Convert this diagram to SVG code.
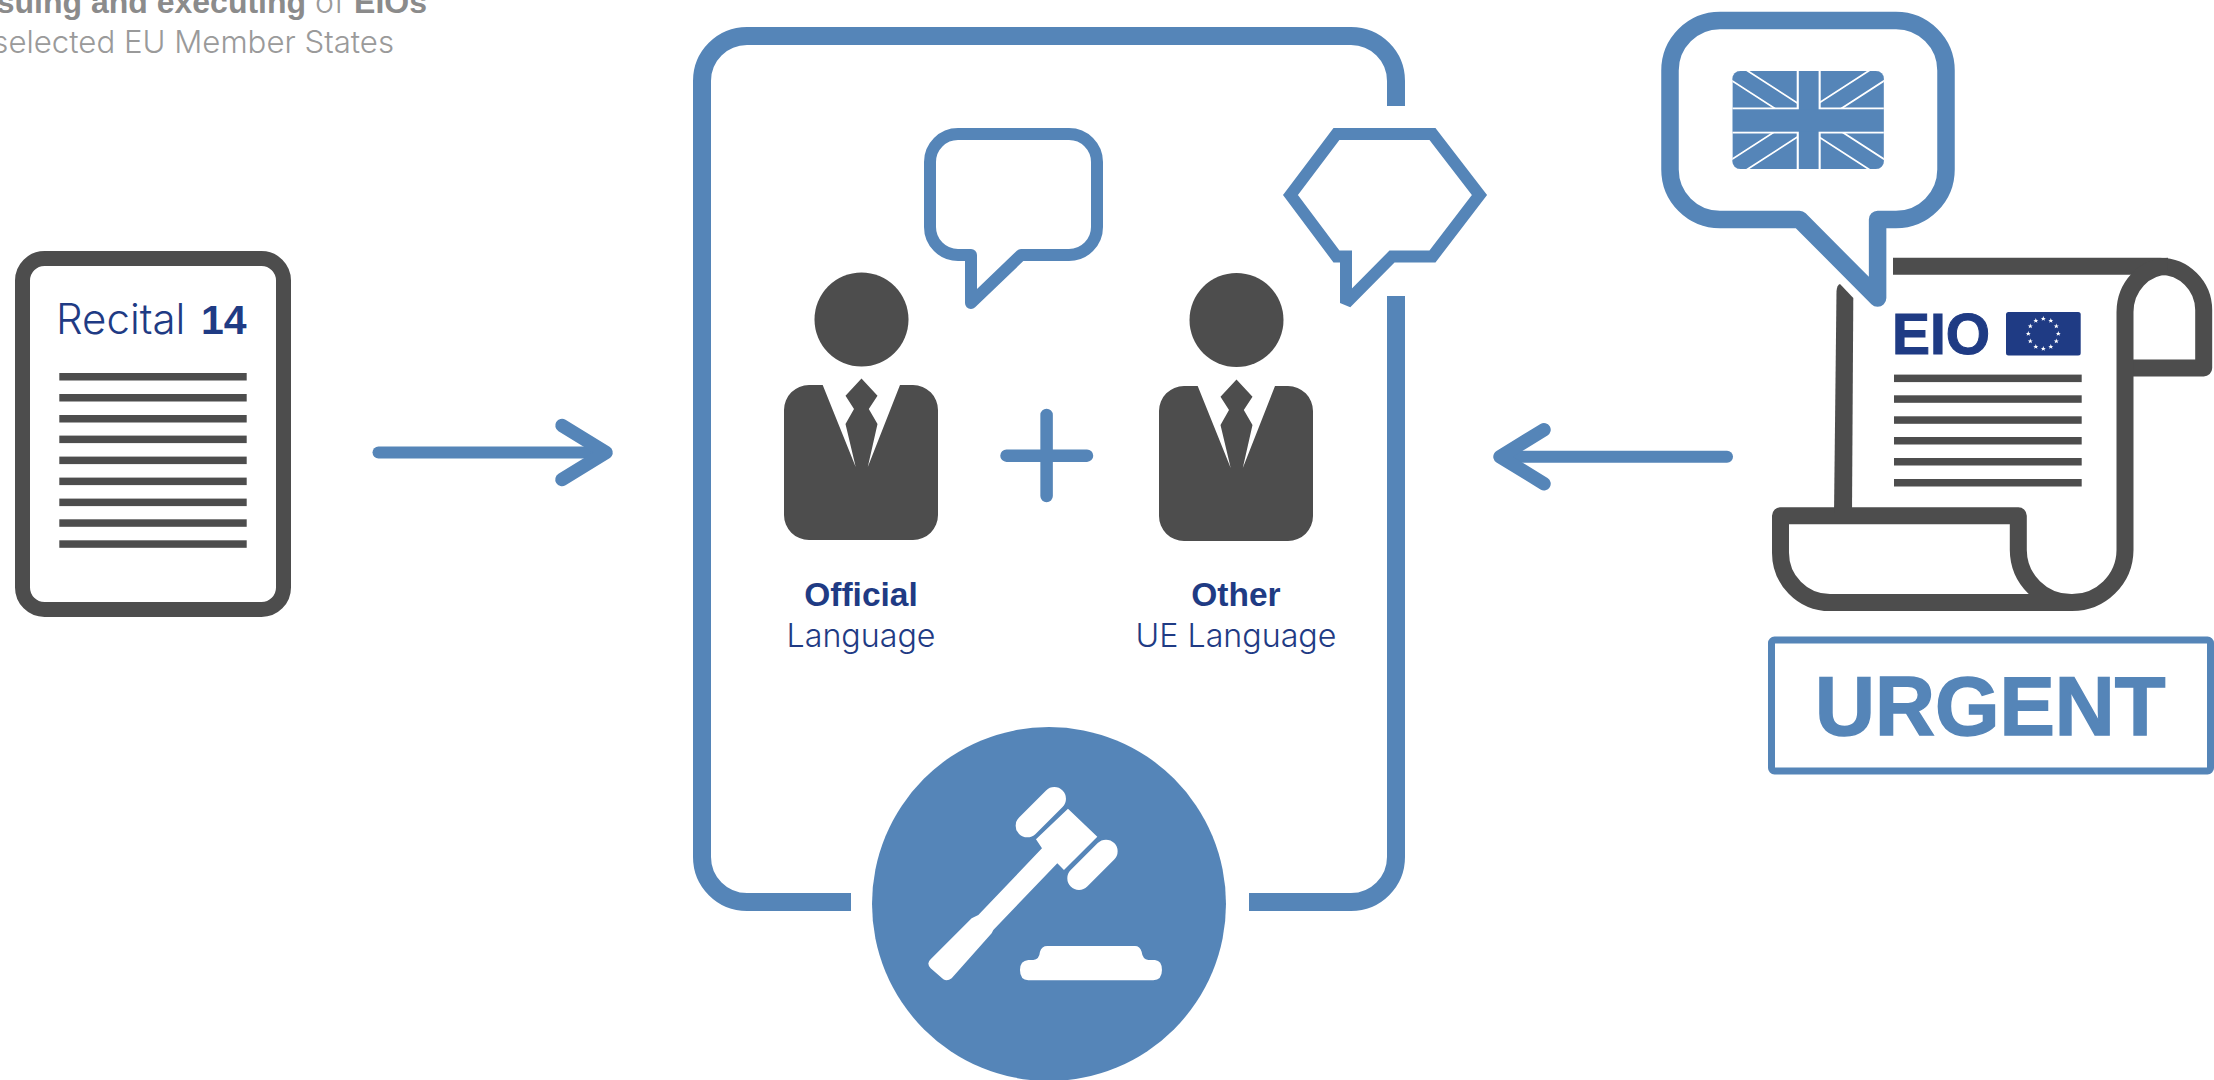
<svg xmlns="http://www.w3.org/2000/svg" xmlns:xlink="http://www.w3.org/1999/xlink" width="2214" height="1080" viewBox="0 0 2214 1080">
<style>
text{font-family:"Liberation Sans",Arial,sans-serif}
.light{font-family:Inter,"Liberation Sans",Arial,sans-serif;font-weight:300}
.blue{fill:none;stroke:#5585b8;stroke-linecap:round;stroke-linejoin:round}
.bubble{fill:#fff;stroke:#5585b8;stroke-width:12;stroke-linejoin:round}
.hex{fill:#fff;stroke:#5585b8;stroke-width:12;stroke-linejoin:miter;stroke-miterlimit:2}
.dark{fill:#4d4d4d}
.bar{fill:#4d4d4d;height:7.5px}
.navy{fill:#1f3b84}
.b{font-weight:700}
.lab{font-size:33.5px;text-anchor:middle}
.lab2{font-size:32.2px;text-anchor:middle}
.doc{fill:none;stroke:#4d4d4d;stroke-width:17;stroke-linejoin:round}
.grey{fill:#8b8b8b}
.lgrey{fill:#9a9a9a}
</style>
<defs>
<marker id="head" markerUnits="userSpaceOnUse" markerWidth="80" markerHeight="80" refX="60" refY="40" orient="auto" overflow="visible">
<path d="M16,13 L60,40 L16,67" fill="none" stroke="#5585b8" stroke-width="13.5" stroke-linecap="round" stroke-linejoin="round"/>
</marker>
<clipPath id="flagclip"><rect x="1732.4" y="71" width="151.5" height="98" rx="8"/></clipPath>
<path id="star" d="M0,-2.6 L.7,-.8 2.5,-.8 1.1,.3 1.6,2.1 0,1 -1.6,2.1 -1.1,.3 -2.5,-.8 -.7,-.8Z" fill="#fff"/>
<path id="person" d="M822.7,385 L855.7,467 L845.5,424 L854,409 L845.5,395.7 L861.5,378.6 L877.5,395.7 L868.8,409 L877.5,424 L867.8,467 L900,385 H913 A25,25 0 0 1 938,410 V515 A25,25 0 0 1 913,540 H809 A25,25 0 0 1 784,515 V410 A25,25 0 0 1 809,385Z"/>
</defs>

<g id="heading">
<text x="427" y="13" text-anchor="end" font-size="32" class="grey"><tspan class="b">Issuing and executing</tspan><tspan class="lgrey light"> of </tspan><tspan class="b">EIOs</tspan></text>
<text x="394" y="53" text-anchor="end" font-size="31.2" class="lgrey light">selected EU Member States</text>
</g>

<g id="recital-14">
<rect x="22.5" y="258.5" width="261" height="351" rx="22" fill="#fff" stroke="#4d4d4d" stroke-width="15"/>
<text x="56" y="334" font-size="42" class="navy light">Recital</text>
<text x="201" y="334" font-size="41" class="navy b">14</text>
<rect class="bar" x="59.3" y="373" width="187.4"/>
<rect class="bar" x="59.3" y="394" width="187.4"/>
<rect class="bar" x="59.3" y="415" width="187.4"/>
<rect class="bar" x="59.3" y="435.6" width="187.4"/>
<rect class="bar" x="59.3" y="456.6" width="187.4"/>
<rect class="bar" x="59.3" y="477.6" width="187.4"/>
<rect class="bar" x="59.3" y="498.6" width="187.4"/>
<rect class="bar" x="59.3" y="519.3" width="187.4"/>
<rect class="bar" x="59.3" y="540.3" width="187.4"/>
</g>

<g id="connectors">
<line class="blue" x1="378.5" y1="452.5" x2="606" y2="452.5" stroke-width="12" marker-end="url(#head)"/>
<line class="blue" x1="1727" y1="456.7" x2="1500" y2="456.7" stroke-width="12" marker-end="url(#head)"/>
</g>

<g id="frame">
<path class="blue" style="stroke-linecap:butt" stroke-width="18" d="M1396,106 V81 A45,45 0 0 0 1351,36 H747 A45,45 0 0 0 702,81 V857 A45,45 0 0 0 747,902 H851"/>
<path class="blue" style="stroke-linecap:butt" stroke-width="18" d="M1396,296 V857 A45,45 0 0 1 1351,902 H1249"/>
</g>

<g id="official-language">
<path class="bubble" d="M958,134 H1069 A28,28 0 0 1 1097,162 V227 A28,28 0 0 1 1069,255 H1021 L971,303 V255 H958 A28,28 0 0 1 930,227 V162 A28,28 0 0 1 958,134Z"/>
<ellipse class="dark" cx="861.5" cy="319.5" rx="47" ry="47"/>
<use xlink:href="#person" href="#person" class="dark"/>
<text class="lab navy b" x="861" y="606">Official</text>
<text class="lab2 navy light" x="861" y="647">Language</text>
</g>

<g id="plus">
<path class="blue" stroke-width="12.5" d="M1006.5,455.7 H1087 M1046.6,415 V496"/>
</g>

<g id="other-language">
<path class="hex" d="M1336.5,134 H1432.5 L1479.5,195 L1432.5,256.5 H1392 L1346,303 V256.5 H1336.5 L1290.5,195Z"/>
<ellipse class="dark" cx="1236.5" cy="320" rx="47" ry="47"/>
<use xlink:href="#person" href="#person" class="dark" transform="translate(375,1)"/>
<text class="lab navy b" x="1236" y="606">Other</text>
<text class="lab2 navy light" x="1236" y="647">UE Language</text>
</g>

<g id="gavel">
<circle cx="1049" cy="904" r="177" fill="#5585b8"/>
<g transform="translate(840,720) scale(.3333)" fill="#fff">
<path d="M684,266 L772,350 L672,450 L652,430 L460,630 L455,640 L335,775 Q322,785 310,778 L272,745 Q258,730 272,718 L395,595 L415,585 L606,385 L588,358Z"/>
<line x1="643" y1="236" x2="562" y2="317" stroke="#fff" stroke-width="70" stroke-linecap="round"/>
<line x1="798" y1="394" x2="717" y2="475" stroke="#fff" stroke-width="70" stroke-linecap="round"/>
<path d="M622,678 H885 Q900,678 905,695 Q908,718 925,720 H945 Q966,722 966,750 Q966,780 940,781 H565 Q540,780 540,750 Q540,722 565,720 H580 Q598,718 600,695 Q605,678 622,678Z"/>
</g>
</g>

<g id="eio-document">
<path class="doc" d="M1893,266.3 H2160 A43.7,44 0 0 1 2203.7,310 V368 H2125"/>
<path class="doc" d="M2168,266.3 A43,46 0 0 0 2125,312 V550 A53,53 0 0 1 2071.3,602.6 H1830 A49.5,50 0 0 1 1780.5,552 V515.7 H2018.3 V550 A53,53 0 0 0 2071.3,602.6"/>
<path class="dark" d="M1836.5,291 Q1837,285 1840,284 L1853.3,298 L1852,515 H1834Z"/>
<text x="1892" y="354" font-size="57" font-weight="700" class="navy" stroke="#1f3b84" stroke-width="1">EIO</text>
<rect x="2006" y="312" width="74.7" height="43.4" rx="2.5" class="navy"/>
<g transform="translate(2043.3,333.7)">
<use xlink:href="#star" href="#star" x="0" y="-15"/><use xlink:href="#star" href="#star" x="7.5" y="-13"/><use xlink:href="#star" href="#star" x="13" y="-7.5"/><use xlink:href="#star" href="#star" x="15" y="0"/><use xlink:href="#star" href="#star" x="13" y="7.5"/><use xlink:href="#star" href="#star" x="7.5" y="13"/><use xlink:href="#star" href="#star" x="0" y="15"/><use xlink:href="#star" href="#star" x="-7.5" y="13"/><use xlink:href="#star" href="#star" x="-13" y="7.5"/><use xlink:href="#star" href="#star" x="-15" y="0"/><use xlink:href="#star" href="#star" x="-13" y="-7.5"/><use xlink:href="#star" href="#star" x="-7.5" y="-13"/>
</g>
<rect class="bar" x="1894" y="374.6" width="187.7"/>
<rect class="bar" x="1894" y="395.3" width="187.7"/>
<rect class="bar" x="1894" y="416.3" width="187.7"/>
<rect class="bar" x="1894" y="437" width="187.7"/>
<rect class="bar" x="1894" y="458" width="187.7"/>
<rect class="bar" x="1894" y="479" width="187.7"/>
</g>

<g id="english-bubble">
<path class="bubble" style="stroke-width:17.5" d="M1720,20.5 H1896 A50,50 0 0 1 1946,70.5 V169.5 A50,50 0 0 1 1896,219.5 H1877.6 V298 L1799.5,219.5 H1720 A50,50 0 0 1 1670,169.5 V70.5 A50,50 0 0 1 1720,20.5Z"/>
<g clip-path="url(#flagclip)">
<rect x="1732.4" y="71" width="151.5" height="98" fill="#5585b8"/>
<path d="M1732.4,71 L1883.9,169 M1883.9,71 L1732.4,169" stroke="#fff" stroke-width="18.5" fill="none"/>
<path d="M1732.4,71 L1883.9,169 M1883.9,71 L1732.4,169" stroke="#5585b8" stroke-width="15" fill="none"/>
<rect x="1796.7" y="71" width="24" height="98" fill="#fff"/>
<rect x="1732.4" y="107.5" width="151.5" height="26" fill="#fff"/>
<rect x="1798.8" y="71" width="19.8" height="98" fill="#5585b8"/>
<rect x="1732.4" y="109.3" width="151.5" height="22.4" fill="#5585b8"/>
</g>
</g>

<g id="urgent">
<rect x="1771.5" y="640" width="439" height="131" rx="3" fill="#fff" stroke="#5585b8" stroke-width="7"/>
<text x="1815" y="735" font-size="83" font-weight="700" fill="#5585b8" stroke="#5585b8" stroke-width="1.5">URGENT</text>
</g>
</svg>
